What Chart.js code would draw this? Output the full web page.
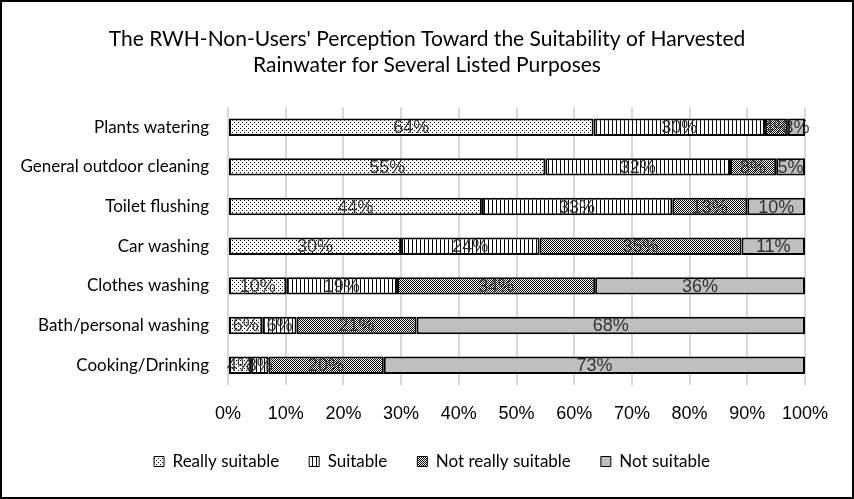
<!DOCTYPE html>
<html>
<head>
<meta charset="utf-8">
<script src="https://cdn.jsdelivr.net/npm/chart.js@4/dist/chart.umd.min.js"></script>
<style>
    html, body { margin: 0; padding: 0; background: #fff; }
    #wrap { width: 854px; height: 499px; position: relative; }
</style>
</head>
<body>
<div id="wrap"><canvas id="chart"></canvas></div>
<script>
const titleLines = ["The RWH-Non-Users' Perception Toward the Suitability of Harvested", "Rainwater for Several Listed Purposes"];
const purposes = ["Plants watering", "General outdoor cleaning", "Toilet flushing", "Car washing", "Clothes washing", "Bath/personal washing", "Cooking/Drinking"];
const seriesNames = ["Really suitable", "Suitable", "Not really suitable", "Not suitable"];

// percentages as labelled in the picture
const reallySuitable = [64, 55, 44, 30, 10, 6, 4];
const suitable = [30, 32, 33, 24, 19, 6, 3];
const notReallySuitable = [4, 8, 13, 35, 34, 21, 20];
const notSuitable = [3, 5, 10, 11, 36, 68, 73];

const xTicks = [0, 10, 20, 30, 40, 50, 60, 70, 80, 90, 100];

function makePattern(w, h, dots, bg) {
    const c = document.createElement('canvas');
    c.width = w;
    c.height = h;
    const g = c.getContext('2d');
    g.fillStyle = bg;
    g.fillRect(0, 0, w, h);
    g.fillStyle = '#000';
    dots.forEach(d => g.fillRect(d[0], d[1], 1, 1));
    return g.createPattern(c, 'repeat');
}

const ctx = document.getElementById('chart').getContext('2d');
const fills = [
    makePattern(4, 4, [[0, 0], [2, 2]], '#fff'),
    makePattern(4, 1, [[0, 0]], '#fff'),
    makePattern(2, 2, [[0, 0], [1, 1]], '#fff'),
    '#bfbfbf'
];

const rawSeries = [reallySuitable, suitable, notReallySuitable, notSuitable];
// Excel 100% stacked: each row is scaled to its own total
const rowTotals = purposes.map((p, i) => rawSeries.reduce((s, arr) => s + arr[i], 0));

const datasets = rawSeries.map((arr, k) => ({
    label: seriesNames[k],
    data: arr.map((v, i) => v / rowTotals[i] * 100),
    raw: arr,
    backgroundColor: fills[k],
    borderColor: '#000',
    borderWidth: 2,
    borderSkipped: false,
    barPercentage: 0.44,
    categoryPercentage: 1
}));

const barLabels = {
    id: 'barLabels',
    afterDatasetsDraw(chart) {
        const c = chart.ctx;
        c.save();
        c.font = '18px "Liberation Sans", Arial, sans-serif';
        c.fillStyle = '#333';
        c.textAlign = 'center';
        c.textBaseline = 'middle';
        chart.data.datasets.forEach((ds, k) => {
            chart.getDatasetMeta(k).data.forEach((bar, i) => {
                c.fillText(ds.raw[i] + '%', (bar.x + bar.base) / 2, bar.y + 1);
            });
        });
        c.restore();
    }
};

// title and legend are centred on the whole frame, not on the padded box
const recenter = {
    id: 'recenter',
    afterLayout(chart) {
        chart.titleBlock.left = 0;
        chart.titleBlock.right = chart.width;
        chart.titleBlock.width = chart.width;
        chart.legend.left = 10;
        chart.legend.right = chart.width;
        chart.legend.width = chart.width - 10;
    }
};

const frame = {
    id: 'frame',
    afterDraw(chart) {
        const c = chart.ctx;
        c.save();
        c.strokeStyle = '#000';
        c.lineWidth = 2;
        c.strokeRect(1, 1, chart.width - 2, chart.height - 2);
        c.restore();
    }
};

new Chart(ctx, {
    type: 'bar',
    data: { labels: purposes, datasets: datasets },
    plugins: [barLabels, recenter, frame],
    options: {
        indexAxis: 'y',
        responsive: true,
        maintainAspectRatio: false,
        animation: false,
        layout: { padding: { left: 0, right: 49, top: 0, bottom: 19 } },
        scales: {
            x: {
                stacked: true,
                min: 0,
                max: 100,
                afterBuildTicks: (scale) => { scale.ticks = xTicks.map(v => ({ value: v })); },
                afterFit: (scale) => { scale.height = 38; },
                grid: { color: '#d9d9d9', lineWidth: 2, drawTicks: false },
                border: { display: false },
                ticks: {
                    padding: 18,
                    maxRotation: 0,
                    color: '#000',
                    font: { family: '"Liberation Sans", Arial, sans-serif', size: 18 },
                    callback: v => v + '%'
                }
            },
            y: {
                stacked: true,
                afterFit: (scale) => { scale.width = 228; },
                grid: { display: false, drawTicks: false },
                border: { display: false },
                ticks: {
                    padding: 19,
                    color: '#000',
                    font: { family: 'Lato, "Open Sans", sans-serif', size: 17 }
                }
            }
        },
        plugins: {
            title: {
                display: true,
                text: titleLines,
                color: '#000',
                font: { family: 'Lato, "Open Sans", sans-serif', size: 21, weight: 'normal', lineHeight: 1.2 },
                padding: { top: 27, bottom: 30 }
            },
            legend: {
                position: 'bottom',
                labels: {
                    boxWidth: 10,
                    boxHeight: 10,
                    padding: 30,
                    color: '#000',
                    font: { family: 'Lato, "Open Sans", sans-serif', size: 17 },
                    generateLabels: (chart) => chart.data.datasets.map((ds, k) => ({
                        text: ds.label,
                        fillStyle: ds.backgroundColor,
                        strokeStyle: '#000',
                        lineWidth: 1,
                        datasetIndex: k,
                        hidden: false
                    }))
                }
            },
            tooltip: { enabled: false }
        }
    }
});
</script>
</body>
</html>
